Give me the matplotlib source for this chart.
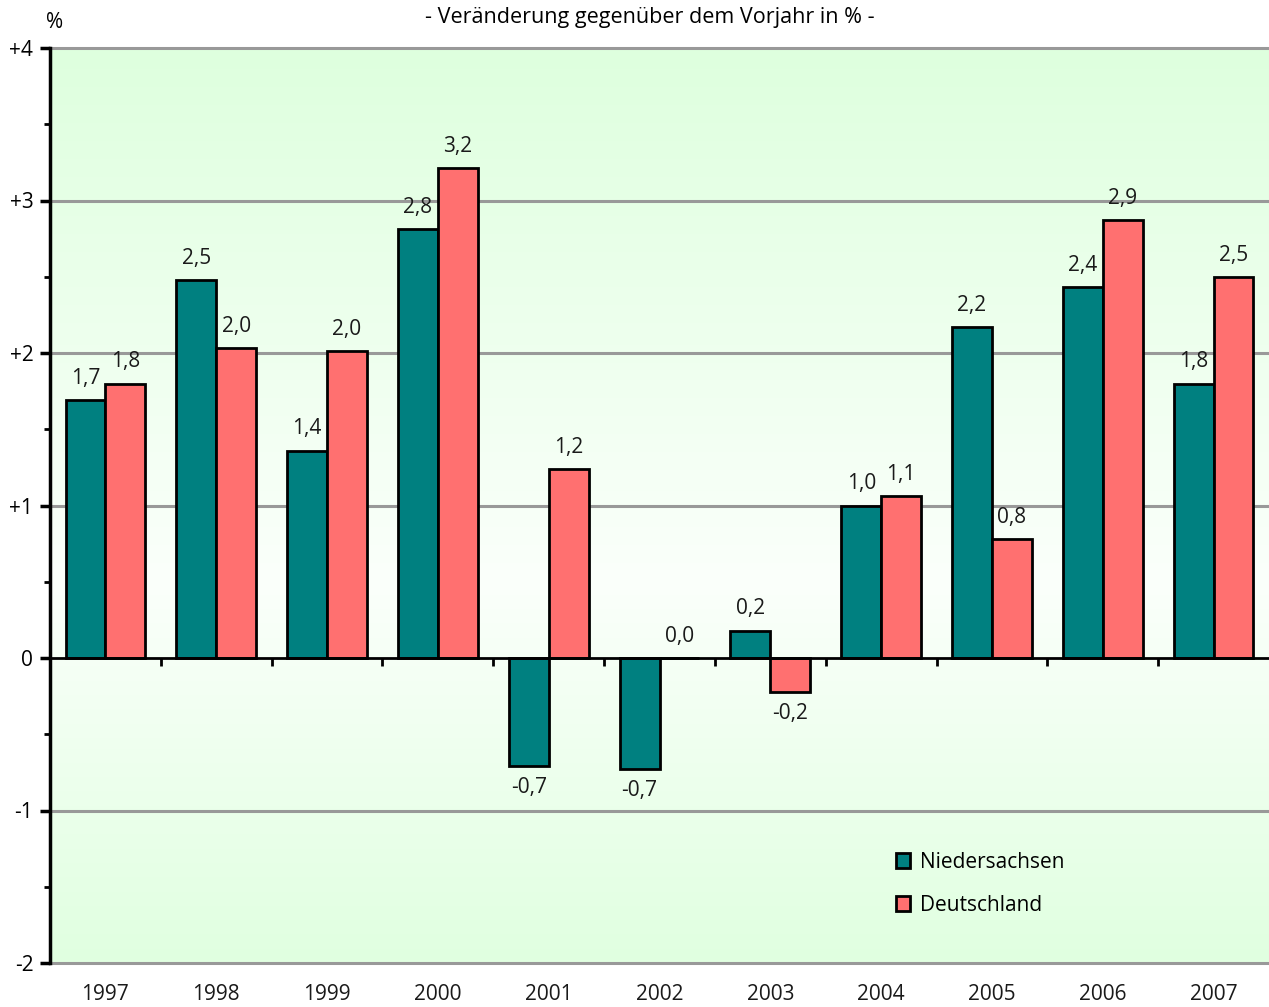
import numpy as np
import matplotlib.pyplot as plt
from matplotlib.patches import Patch
from matplotlib.colors import LinearSegmentedColormap
import matplotlib.transforms as mtransforms

plt.rcParams['font.family'] = ['Open Sans', 'DejaVu Sans']

years = ['1997', '1998', '1999', '2000', '2001', '2002', '2003', '2004', '2005', '2006', '2007']
niedersachsen = [1.69, 2.48, 1.36, 2.81, -0.71, -0.73, 0.18, 1.00, 2.17, 2.43, 1.80]
deutschland = [1.80, 2.03, 2.01, 3.21, 1.24, 0.00, -0.22, 1.06, 0.78, 2.87, 2.50]
ytick_vals = [-2, -1, 0, 1, 2, 3, 4]
ytick_labels = ['-2', '-1', '0', '+1', '+2', '+3', '+4']

teal = '#008080'
salmon = '#FF7070'
fs = 15

fig = plt.figure(figsize=(12.69, 10.07), dpi=100)
ax = fig.add_axes([50 / 1269, 44 / 1007, 1 - 50 / 1269, 915 / 1007])

# background gradient: green top, almost white around 0..1, green bottom
cmap = LinearSegmentedColormap.from_list(
    'bg', [(0.0, '#E0FFE0'), (2.5 / 6, '#FBFFFB'), (1.0, '#DEFFDE')])
grad = np.linspace(0, 1, 256).reshape(-1, 1)
ax.imshow(grad, cmap=cmap, aspect='auto', extent=[-0.5, 10.5, -2, 4],
          origin='lower', zorder=0)

x = np.arange(len(years))
w = 0.36
b1 = ax.bar(x - w / 2, niedersachsen, w, color=teal, edgecolor='black', linewidth=2, zorder=3)
b2 = ax.bar(x + w / 2, deutschland, w, color=salmon, edgecolor='black', linewidth=2, zorder=3)

for bars, vals in ((b1, niedersachsen), (b2, deutschland)):
    for rect, v in zip(bars, vals):
        txt = f'{v:.1f}'.replace('.', ',')
        if v >= 0:
            ax.annotate(txt, (rect.get_x() + rect.get_width() / 2, v), xytext=(0, 8),
                        textcoords='offset points', ha='center', va='bottom',
                        fontsize=fs, color='#1a1a1a', zorder=4)
        else:
            ax.annotate(txt, (rect.get_x() + rect.get_width() / 2, v), xytext=(0, -8),
                        textcoords='offset points', ha='center', va='top',
                        fontsize=fs, color='#1a1a1a', zorder=4)

ax.set_xlim(-0.5, 10.5)
ax.set_ylim(-2, 4)
for yv in ytick_vals:
    if yv != 0:
        ax.axhline(yv, color='#999999', linewidth=2.2, zorder=1, clip_on=False)

ax.spines['top'].set_visible(False)
ax.spines['right'].set_visible(False)
ax.spines['bottom'].set_position(('data', 0))
ax.spines['bottom'].set_linewidth(2)
ax.spines['bottom'].set_zorder(5)
ax.spines['left'].set_linewidth(2.5)
ax.spines['left'].set_zorder(6)

ax.set_yticks(ytick_vals)
ax.set_yticklabels(ytick_labels)
ax.set_yticks(np.arange(-1.5, 4, 1.0), minor=True)
ax.tick_params(axis='y', which='major', direction='out', length=7, width=2.5,
               labelsize=fs, pad=5)
ax.tick_params(axis='y', which='minor', direction='out', length=4, width=2)

ax.set_xticks(np.arange(0.5, 10.5, 1.0))
ax.set_xticklabels([])
ax.tick_params(axis='x', direction='out', length=6, width=2)

trans = mtransforms.blended_transform_factory(ax.transData, ax.transAxes)
for i, yr in enumerate(years):
    ax.text(i, -0.034, yr, transform=trans, ha='center', va='center',
            fontsize=fs, color='#1a1a1a')

fig.text(55 / 1269, 1 - 22 / 1007, '%', ha='center', va='center', fontsize=fs)
fig.text(650 / 1269, 1 - 17 / 1007, '- Veränderung gegenüber dem Vorjahr in % -',
         ha='center', va='center', fontsize=15.5)

handles = [Patch(facecolor=teal, edgecolor='black', linewidth=2, label='Niedersachsen'),
           Patch(facecolor=salmon, edgecolor='black', linewidth=2, label='Deutschland')]
ax.legend(handles=handles, loc='upper left', bbox_to_anchor=(877 / 1269, 1 - 833 / 1007),
          bbox_transform=fig.transFigure, frameon=False, fontsize=fs,
          handlelength=0.7, handleheight=0.7, handletextpad=0.45, labelspacing=1.05)

fig.savefig('out.png', dpi=100)
